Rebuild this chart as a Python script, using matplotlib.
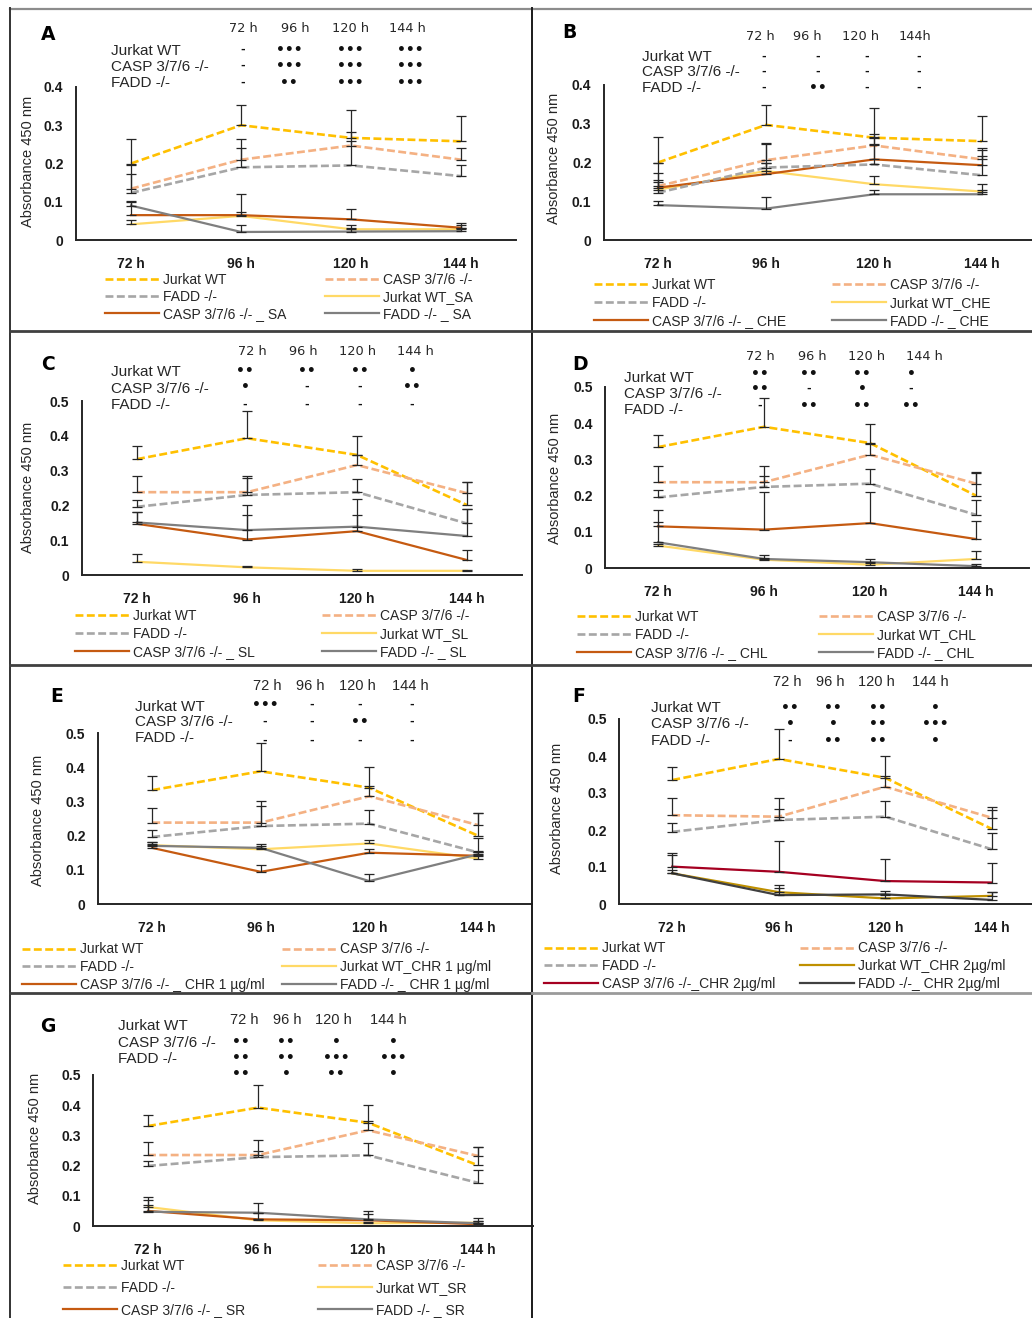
import numpy as np
import matplotlib
matplotlib.use("Agg")
import matplotlib.pyplot as plt
from matplotlib.lines import Line2D

W, H = 1032, 1318
NARROW = ["Liberation Sans Narrow", "Liberation Sans", "DejaVu Sans"]

times = ["72 h", "96 h", "120 h", "144 h"]
rows = ["Jurkat WT", "CASP 3/7/6 -/-", "FADD -/-"]
base_names = ["Jurkat WT", "CASP 3/7/6 -/-", "FADD -/-"]

# A - SA
names_A = base_names + ["Jurkat WT_SA", "CASP 3/7/6 -/- _ SA", "FADD -/- _ SA"]
means_A = [[0.200, 0.300, 0.267, 0.258],
           [0.134, 0.210, 0.247, 0.210],
           [0.123, 0.190, 0.195, 0.167],
           [0.041, 0.063, 0.028, 0.028],
           [0.065, 0.065, 0.054, 0.032],
           [0.090, 0.021, 0.022, 0.023]]
errs_A = [[0.065, 0.052, 0.072, 0.065],
          [0.063, 0.054, 0.035, 0.030],
          [0.050, 0.050, 0.065, 0.029],
          [0.010, 0.010, 0.010, 0.010],
          [0.034, 0.054, 0.026, 0.013],
          [0.012, 0.018, 0.010, 0.008]]
sig_A = [["-", "•••", "•••", "•••"], ["-", "•••", "•••", "•••"], ["-", "••", "•••", "•••"]]

# B - CHE
names_B = base_names + ["Jurkat WT_CHE", "CASP 3/7/6 -/- _ CHE", "FADD -/- _ CHE"]
means_B = [[0.200, 0.297, 0.264, 0.255],
           [0.139, 0.206, 0.244, 0.208],
           [0.122, 0.187, 0.195, 0.167],
           [0.130, 0.178, 0.144, 0.125],
           [0.135, 0.170, 0.208, 0.193],
           [0.090, 0.081, 0.118, 0.118]]
errs_B = [[0.067, 0.051, 0.076, 0.065],
          [0.060, 0.045, 0.030, 0.030],
          [0.050, 0.060, 0.070, 0.050],
          [0.020, 0.020, 0.020, 0.020],
          [0.020, 0.030, 0.040, 0.040],
          [0.010, 0.030, 0.010, 0.010]]
sig_B = [["-", "-", "-", "-"], ["-", "-", "-", "-"], ["-", "••", "-", "-"]]

# C - SL
names_C = base_names + ["Jurkat WT_SL", "CASP 3/7/6 -/- _ SL", "FADD -/- _ SL"]
means_C = [[0.333, 0.393, 0.345, 0.201],
           [0.238, 0.238, 0.316, 0.235],
           [0.196, 0.230, 0.238, 0.148],
           [0.038, 0.022, 0.012, 0.012],
           [0.147, 0.102, 0.126, 0.043],
           [0.151, 0.129, 0.139, 0.112]]
errs_C = [[0.039, 0.079, 0.053, 0.067],
          [0.047, 0.047, 0.030, 0.033],
          [0.020, 0.050, 0.038, 0.042],
          [0.022, 0.005, 0.005, 0.003],
          [0.035, 0.098, 0.046, 0.029],
          [0.030, 0.043, 0.079, 0.078]]
sig_C = [["••", "••", "••", "•"], ["•", "-", "-", "••"], ["-", "-", "-", "-"]]

# D - CHL
names_D = base_names + ["Jurkat WT_CHL", "CASP 3/7/6 -/- _ CHL", "FADD -/- _ CHL"]
means_D = [[0.334, 0.390, 0.345, 0.200],
           [0.237, 0.237, 0.313, 0.233],
           [0.195, 0.224, 0.233, 0.147],
           [0.062, 0.023, 0.009, 0.025],
           [0.115, 0.106, 0.124, 0.080],
           [0.071, 0.025, 0.016, 0.005]]
errs_D = [[0.034, 0.080, 0.054, 0.062],
          [0.046, 0.046, 0.030, 0.031],
          [0.021, 0.030, 0.040, 0.040],
          [0.005, 0.005, 0.005, 0.023],
          [0.044, 0.103, 0.085, 0.050],
          [0.055, 0.012, 0.009, 0.005]]
sig_D = [["••", "••", "••", "•"], ["••", "-", "•", "-"], ["-", "••", "••", "••"]]

# E - CHR 1 ug/ml
names_E = base_names + ["Jurkat WT_CHR 1 µg/ml", "CASP 3/7/6 -/- _ CHR 1 µg/ml", "FADD -/- _ CHR 1 µg/ml"]
means_E = [[0.333, 0.388, 0.340, 0.200],
           [0.238, 0.238, 0.315, 0.231],
           [0.196, 0.228, 0.235, 0.151],
           [0.172, 0.160, 0.177, 0.133],
           [0.164, 0.094, 0.150, 0.141],
           [0.170, 0.164, 0.067, 0.145]]
errs_E = [[0.040, 0.084, 0.061, 0.067],
          [0.042, 0.062, 0.030, 0.035],
          [0.020, 0.060, 0.039, 0.042],
          [0.010, 0.010, 0.010, 0.010],
          [0.010, 0.020, 0.010, 0.010],
          [0.010, 0.010, 0.020, 0.010]]
sig_E = [["•••", "-", "-", "-"], ["-", "-", "••", "-"], ["-", "-", "-", "-"]]

# F - CHR 2 ug/ml
names_F = base_names + ["Jurkat WT_CHR 2µg/ml", "CASP 3/7/6 -/-_CHR 2µg/ml", "FADD -/-_ CHR 2µg/ml"]
means_F = [[0.335, 0.392, 0.341, 0.203],
           [0.240, 0.236, 0.317, 0.233],
           [0.195, 0.227, 0.236, 0.148],
           [0.083, 0.032, 0.015, 0.022],
           [0.101, 0.087, 0.062, 0.058],
           [0.083, 0.024, 0.026, 0.011]]
errs_F = [[0.036, 0.081, 0.060, 0.060],
          [0.046, 0.050, 0.030, 0.021],
          [0.023, 0.030, 0.042, 0.043],
          [0.010, 0.010, 0.010, 0.010],
          [0.036, 0.084, 0.059, 0.054],
          [0.050, 0.027, 0.010, 0.022]]
sig_F = [["••", "••", "••", "•"], ["•", "•", "••", "•••"], ["-", "••", "••", "•"]]

# G - SR
names_G = base_names + ["Jurkat WT_SR", "CASP 3/7/6 -/- _ SR", "FADD -/- _ SR"]
means_G = [[0.331, 0.392, 0.342, 0.201],
           [0.235, 0.235, 0.317, 0.232],
           [0.199, 0.228, 0.234, 0.143],
           [0.063, 0.019, 0.009, 0.011],
           [0.050, 0.022, 0.019, 0.006],
           [0.047, 0.044, 0.022, 0.009]]
errs_G = [[0.037, 0.074, 0.058, 0.062],
          [0.044, 0.050, 0.030, 0.030],
          [0.016, 0.020, 0.040, 0.041],
          [0.005, 0.005, 0.005, 0.005],
          [0.035, 0.020, 0.020, 0.010],
          [0.050, 0.031, 0.028, 0.019]]
sig_G = [["••", "••", "•", "•"], ["••", "••", "•••", "•••"], ["••", "•", "••", "•"]]

colors_std = ["#FFC000", "#F4B183", "#A6A6A6", "#FFD966", "#C55A11", "#7F7F7F"]
colors_F = ["#FFC000", "#F4B183", "#A6A6A6", "#BF9000", "#A50021", "#404040"]

# layout in pixels: axes (x0, x1, ytop, ybottom, ymax), letter pos, ylabel pos,
# header y / xs, row-label x / ys, mark xs / ys, legend col xs / middle row y / row step
panels = [
    dict(k="A", means=means_A, errs=errs_A, names=names_A, sig=sig_A, colors=colors_std,
         ax=(76, 516, 87, 240, 0.4), letter=(48, 35), ylab=(28, 161),
         hdr_y=29, hdr_x=[243, 295, 351, 407], hdr=times, hdr_narrow=False,
         lab_x=111, lab_y=[51, 67, 83], mk_x=[243, 289, 350, 410], mk_y=[50, 66, 83],
         leg_x=(105, 325), leg_y=297, leg_step=17),
    dict(k="B", means=means_B, errs=errs_B, names=names_B, sig=sig_B, colors=colors_std,
         ax=(604, 1036, 85, 240, 0.4), letter=(569, 33), ylab=(554, 158),
         hdr_y=36, hdr_x=[760, 807, 861, 915], hdr=["72 h", "96 h", "120 h", "144h"], hdr_narrow=False,
         lab_x=642, lab_y=[57, 72, 88], mk_x=[764, 818, 867, 919], mk_y=[57, 72, 88],
         leg_x=(594, 832), leg_y=303, leg_step=18),
    dict(k="C", means=means_C, errs=errs_C, names=names_C, sig=sig_C, colors=colors_std,
         ax=(82, 522, 401, 575, 0.5), letter=(48, 365), ylab=(28, 487),
         hdr_y=352, hdr_x=[252, 303, 358, 415], hdr=times, hdr_narrow=False,
         lab_x=111, lab_y=[372, 389, 405], mk_x=[245, 307, 360, 412], mk_y=[371, 387, 405],
         leg_x=(75, 322), leg_y=634, leg_step=18),
    dict(k="D", means=means_D, errs=errs_D, names=names_D, sig=sig_D, colors=colors_std,
         ax=(605, 1029, 387, 568, 0.5), letter=(580, 365), ylab=(555, 478),
         hdr_y=357, hdr_x=[760, 812, 867, 924], hdr=times, hdr_narrow=False,
         lab_x=624, lab_y=[378, 394, 410], mk_x=[760, 809, 862, 911], mk_y=[374, 389, 406],
         leg_x=(577, 819), leg_y=635, leg_step=18),
    dict(k="E", means=means_E, errs=errs_E, names=names_E, sig=sig_E, colors=colors_std,
         ax=(98, 532, 733, 904, 0.5), letter=(57, 697), ylab=(38, 820),
         hdr_y=686, hdr_x=[267, 310, 357, 410], hdr=times, hdr_narrow=True,
         lab_x=135, lab_y=[707, 722, 738], mk_x=[265, 312, 360, 412], mk_y=[705, 722, 741],
         leg_x=(22, 282), leg_y=967, leg_step=17.5),
    dict(k="F", means=means_F, errs=errs_F, names=names_F, sig=sig_F, colors=colors_F,
         ax=(619, 1045, 719, 904, 0.5), letter=(579, 696), ylab=(557, 808),
         hdr_y=682, hdr_x=[787, 830, 876, 930], hdr=times, hdr_narrow=True,
         lab_x=651, lab_y=[708, 724, 741], mk_x=[790, 833, 878, 935], mk_y=[708, 724, 741],
         leg_x=(544, 800), leg_y=966, leg_step=17.5),
    dict(k="G", means=means_G, errs=errs_G, names=names_G, sig=sig_G, colors=colors_std,
         ax=(93, 533, 1075, 1226, 0.5), letter=(48, 1026), ylab=(35, 1138),
         hdr_y=1020, hdr_x=[244, 287, 333, 388], hdr=times, hdr_narrow=True,
         lab_x=118, lab_y=[1026, 1043, 1059], mk_x=[241, 286, 336, 393], mk_y=[1042, 1058, 1074],
         leg_x=(63, 318), leg_y=1288, leg_step=22),
]


def fx(x):
    return x / W


def fy(y):
    return 1 - y / H


fig = plt.figure(figsize=(W / 100, H / 100), dpi=100)
fig.patch.set_facecolor("white")

x = np.arange(len(times))
for p in panels:
    x0, x1, yt, yb, ymax = p["ax"]
    ax = fig.add_axes([fx(x0), fy(yb), (x1 - x0) / W, (yb - yt) / H])
    handles = []
    for i, (m, e) in enumerate(zip(p["means"], p["errs"])):
        if i < 3:
            ls, lw = (0, (3, 1.3)), 1.9
        else:
            ls, lw = "-", 1.6
        ln, = ax.plot(x, m, color=p["colors"][i], lw=lw, linestyle=ls, label=p["names"][i],
                      zorder=2 + (i < 3))
        handles.append(ln)
        ax.errorbar(x, m, yerr=[np.zeros(len(e)), e], fmt="none", ecolor="#262626",
                    elinewidth=0.9, capsize=3.5, capthick=0.9, zorder=4)
    ax.set_xlim(-0.5, 3.5)
    ax.set_ylim(0, ymax)
    ticks = np.round(np.arange(0, ymax + 0.001, 0.1), 1)
    ax.set_yticks(ticks)
    ax.set_yticklabels([f"{t:g}" for t in ticks], family=NARROW, fontweight="bold", fontsize=10)
    ax.set_xticks(x)
    ax.set_xticklabels(times, family=NARROW, fontweight="bold", fontsize=10)
    ax.tick_params(length=0, colors="#1a1a1a")
    ax.tick_params(axis="y", pad=9)
    ax.tick_params(axis="x", pad=12)
    for s in ["top", "right"]:
        ax.spines[s].set_visible(False)
    for s in ["left", "bottom"]:
        ax.spines[s].set_color("#262626")
        ax.spines[s].set_linewidth(1.4)
    ax.patch.set_alpha(0)

    # legend in two columns, like the original layout
    order = [[0, 2, 4], [1, 3, 5]]
    for c, idx in enumerate(order):
        leg = ax.legend([handles[j] for j in idx], [p["names"][j] for j in idx],
                        loc="center left", bbox_to_anchor=(fx(p["leg_x"][c]), fy(p["leg_y"])),
                        bbox_transform=fig.transFigure, frameon=False, borderpad=0,
                        borderaxespad=0, handlelength=3.9, handletextpad=0.3,
                        labelspacing=(p["leg_step"] - 13.9) / 13.9,
                        prop=dict(family=NARROW, size=10))
        for t in leg.get_texts():
            t.set_color("#262626")
        if c == 0:
            ax.add_artist(leg)

    fig.text(fx(p["letter"][0]), fy(p["letter"][1]), p["k"], ha="center", va="center",
             fontsize=13.5, fontweight="bold", family="DejaVu Sans")
    fig.text(fx(p["ylab"][0]), fy(p["ylab"][1]), "Absorbance 450 nm", rotation=90,
             ha="center", va="center", fontsize=10.5, family=NARROW, color="#262626")
    hfam = NARROW if p["hdr_narrow"] else "DejaVu Sans"
    hsize = 10.5 if p["hdr_narrow"] else 9.3
    for hx, h in zip(p["hdr_x"], p["hdr"]):
        fig.text(fx(hx), fy(p["hdr_y"]), h, ha="center", va="center", fontsize=hsize,
                 family=hfam, color="#262626")
    for ly, r in zip(p["lab_y"], rows):
        fig.text(fx(p["lab_x"]), fy(ly), r, ha="left", va="center", fontsize=11,
                 family=NARROW, color="#262626")
    for my, srow in zip(p["mk_y"], p["sig"]):
        for mx, s in zip(p["mk_x"], srow):
            fig.text(fx(mx), fy(my), s, ha="center", va="center",
                     fontsize=8 if s == "-" else 10, fontweight="bold",
                     family="DejaVu Sans", color="#111111")

# panel frame lines
frame = [((10, 1032), (9, 9), "#8c8c8c", 1.6),
         ((10, 10), (8, 1318), "#333333", 1.4),
         ((532, 532), (8, 1318), "#1a1a1a", 1.4),
         ((10, 1032), (331, 331), "#404040", 2.0),
         ((10, 1032), (665, 665), "#404040", 2.0),
         ((10, 532), (993, 993), "#404040", 2.0),
         ((532, 1032), (993, 993), "#9a9a9a", 2.0)]
for xs, ys, col, lw in frame:
    fig.add_artist(Line2D([fx(v) for v in xs], [fy(v) for v in ys], color=col, lw=lw,
                          transform=fig.transFigure))

fig.savefig("out.png", dpi=100, facecolor="white")
